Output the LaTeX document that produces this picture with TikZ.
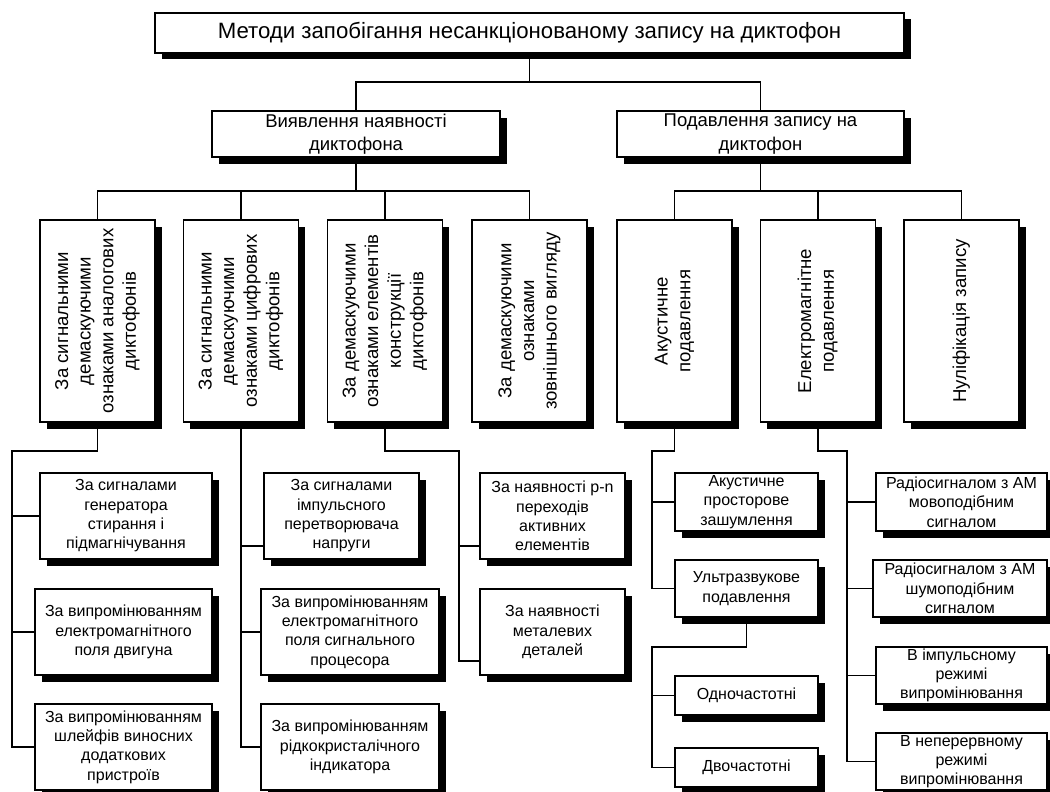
\documentclass[tikz,border=0pt]{standalone}
\usepackage{fontspec}
\setmainfont{Liberation Sans}
\usetikzlibrary{shadows,calc}
\newcommand{\vtext}[1]{\rotatebox{90}{\begin{tabular}{@{}c@{}}#1\end{tabular}}}
\tikzset{
  bx/.style={draw, line width=1.1pt, fill=white, inner sep=0pt, outer sep=0pt, align=center,
    general shadow={fill=black, shadow xshift=6.5pt, shadow yshift=-6.5pt}},
  big/.style={bx, font=\fontsize{22.2}{25}\selectfont},
  mid/.style={bx, font=\fontsize{18.5}{23.5}\selectfont},
  vbox/.style={bx, minimum width=115pt, minimum height=202pt, font=\fontsize{18.6}{22.6}\selectfont},
  sm/.style={bx, font=\fontsize{16}{19.3}\selectfont},
  ln/.style={line width=1.1pt}
}
\begin{document}
\begin{tikzpicture}[x=1pt,y=-1pt]
\useasboundingbox[fill=white] (0,0) rectangle (1050,792);
% top
\node[big, minimum width=749pt, minimum height=40pt] (T) at (529.5,33) {Методи запобігання несанкціонованому запису на диктофон};
\node[mid, minimum width=288pt, minimum height=46pt] (L) at (356,134) {Виявлення наявності\\диктофона};
\node[mid, minimum width=287pt, minimum height=46pt] (R) at (760.5,134) {Подавлення запису на\\диктофон};
% vertical boxes
\node[vbox] (V1) at (97.5,321) {\vtext{За сигнальними\\демаскуючими\\ознаками аналогових\\диктофонів}};
\node[vbox] (V2) at (241,321) {\vtext{За сигнальними\\демаскуючими\\ознаками цифрових\\диктофонів}};
\node[vbox] (V3) at (385,321) {\vtext{За демаскуючими\\ознаками елементів\\конструкції\\диктофонів}};
\node[vbox] (V4) at (529.5,321) {\vtext{За демаскуючими\\ознаками\\зовнішнього вигляду}};
\node[vbox] (V5) at (674.5,321) {\vtext{Акустичне\\подавлення}};
\node[vbox] (V6) at (818,321) {\vtext{Електромагнітне\\подавлення}};
\node[vbox] (V7) at (961.5,321) {\vtext{Нуліфікація запису}};
% column 1
\node[sm, minimum width=172pt, minimum height=86pt] (A1) at (126,516) {За сигналами\\генератора\\стирання і\\підмагнічування};
\node[sm, minimum width=177pt, minimum height=86pt] (A2) at (123.5,632) {За випромінюванням\\електромагнітного\\поля двигуна};
\node[sm, minimum width=177pt, minimum height=86pt] (A3) at (123.5,747) {За випромінюванням\\шлейфів виносних\\додаткових\\пристроїв};
% column 2
\node[sm, minimum width=155pt, minimum height=86pt] (B1) at (341.5,516) {За сигналами\\імпульсного\\перетворювача\\напруги};
\node[sm, minimum width=178pt, minimum height=86pt] (B2) at (350,632) {За випромінюванням\\електромагнітного\\поля сигнального\\процесора};
\node[sm, minimum width=178pt, minimum height=86pt] (B3) at (350,747) {За випромінюванням\\рідкокристалічного\\індикатора};
% column 3
\node[sm, minimum width=145pt, minimum height=86pt] (C1) at (552.5,516) {За наявності p-n\\переходів\\активних\\елементів};
\node[sm, minimum width=145pt, minimum height=86pt] (C2) at (552.5,632) {За наявності\\металевих\\деталей};
% column 5
\node[sm, minimum width=143pt, minimum height=58pt] (D1) at (746.5,502) {Акустичне\\просторове\\зашумлення};
\node[sm, minimum width=143pt, minimum height=57pt] (D2) at (746.5,588.5) {Ультразвукове\\подавлення};
\node[sm, minimum width=143pt, minimum height=39pt] (D3) at (746.5,695.5) {Одночастотні};
\node[sm, minimum width=143pt, minimum height=39pt] (D4) at (746.5,767.5) {Двочастотні};
% column 6
\node[sm, minimum width=171pt, minimum height=58pt] (E1) at (961.5,502) {Радіосигналом з АМ\\мовоподібним\\сигналом};
\node[sm, minimum width=174pt, minimum height=57pt] (E2) at (960,588.5) {Радіосигналом з АМ\\шумоподібним\\сигналом};
\node[sm, minimum width=171pt, minimum height=57pt] (E3) at (961.5,675.5) {В імпульсному\\режимі\\випромінювання};
\node[sm, minimum width=171pt, minimum height=57pt] (E4) at (961.5,761.5) {В неперервному\\режимі\\випромінювання};
% coordinates for trunks
\coordinate (t1) at (12,451);
\coordinate (t3) at (459,451);
\coordinate (t5) at (652,451);
\coordinate (t5b) at (652,647);
\coordinate (t6) at (847,451);
\coordinate (b1p) at ($(B1.south west)+(0,-13)$);
\coordinate (c1p) at ($(C1.south west)+(0,-13)$);
\coordinate (c2p) at ($(C2.south west)+(0,-14)$);
% connectors
\draw[ln] (T.south) -- ++(0,29) -| (L.north);
\draw[ln] (T.south) -- ++(0,29) -| (R.north);
\foreach \v in {V1,V2,V3,V4} \draw[ln] (L.south) -- ++(0,34) -| (\v.north);
\foreach \v in {V5,V6,V7} \draw[ln] (R.south) -- ++(0,34) -| (\v.north);
% col 1
\draw[ln] (V1.south) |- (t1) |- (A3.west);
\draw[ln] (t1 |- A1.west) -- (A1.west);
\draw[ln] (t1 |- A2.west) -- (A2.west);
% col 2
\draw[ln] (V2.south) |- (B3.west);
\draw[ln] (V2.south |- b1p) -- (b1p);
\draw[ln] (V2.south |- B2.west) -- (B2.west);
% col 3
\draw[ln] (V3.south) |- (t3) |- (c2p);
\draw[ln] (t3 |- c1p) -- (c1p);
% col 5
\draw[ln] (V5.south) |- (t5) |- (D2.west);
\draw[ln] (t5 |- D1.west) -- (D1.west);
\draw[ln] (D2.south) |- (t5b) |- (D4.west);
\draw[ln] (t5b |- D3.west) -- (D3.west);
% col 6
\draw[ln] (V6.south) |- (t6) |- (E4.west);
\draw[ln] (t6 |- E1.west) -- (E1.west);
\draw[ln] (t6 |- E2.west) -- (E2.west);
\draw[ln] (t6 |- E3.west) -- (E3.west);
\end{tikzpicture}
\end{document}
